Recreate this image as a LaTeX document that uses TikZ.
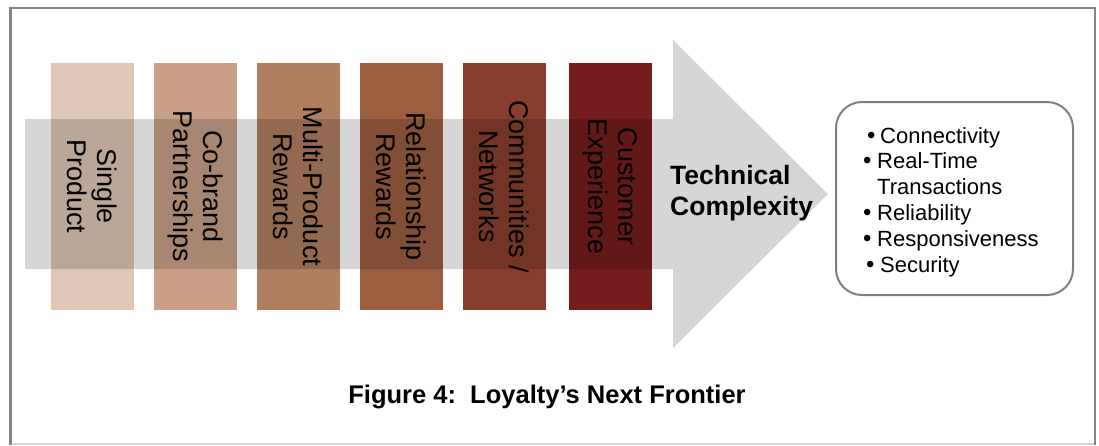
\documentclass[tikz,border=0pt]{standalone}
\usepackage{fontspec}
\setmainfont{Liberation Sans}
\begin{document}
\definecolor{frameline}{HTML}{7E868D}
\definecolor{framelight}{HTML}{D3D3D3}
\definecolor{boxline}{HTML}{7A8086}
\definecolor{tone1}{HTML}{E0C6B4}
\definecolor{tone2}{HTML}{C9A087}
\definecolor{tone3}{HTML}{B07F5F}
\definecolor{tone4}{HTML}{9C5E41}
\definecolor{tone5}{HTML}{883E2D}
\definecolor{tone6}{HTML}{741D1C}
\begin{tikzpicture}[x=1pt,y=-1pt,
  stagebar/.style={inner sep=0pt, minimum width=83pt, minimum height=247pt, draw=none},
  stagelabel/.style={rotate=-90, align=center, inner sep=0pt,
    font=\fontsize{27}{30}\selectfont},
  listitem/.style={anchor=base west, inner sep=0pt, font=\fontsize{22}{26}\selectfont},
  bulletmark/.style={anchor=base west, inner sep=0pt, font=\fontsize{24}{26}\selectfont}]
\useasboundingbox (0,0) rectangle (1099,445);

% outer frame
\draw[framelight, line width=1.5pt] (10.5,444) -- (1095,444);
\draw[frameline, line width=2.5pt] (10.5,445) -- (10.5,8) -- (1095,8) -- (1095,445);

% stage bars
\node[stagebar, fill=tone1] (b1) at (92.5,186.5) {};
\node[stagebar, fill=tone2] (b2) at (195.5,186.5) {};
\node[stagebar, fill=tone3] (b3) at (298.5,186.5) {};
\node[stagebar, fill=tone4] (b4) at (401.5,186.5) {};
\node[stagebar, fill=tone5] (b5) at (504.5,186.5) {};
\node[stagebar, fill=tone6] (b6) at (610.5,186.5) {};

% translucent grey arrow laid across the bars
\fill[black, fill opacity=0.16] (25,119) -- (673,119) -- (673,40) -- (828,194)
  -- (673,348) -- (673,269) -- (25,269) -- cycle;

% stage labels
\node[stagelabel] (l1) at (b1.center) {Single\\Product};
\node[stagelabel] (l2) at (b2.center) {Co-brand\\Partnerships};
\node[stagelabel] (l3) at (b3.center) {Multi-Product\\Rewards};
\node[stagelabel] (l4) at (b4.center) {Relationship\\Rewards};
\node[stagelabel] (l5) at (b5.center) {Communities /\\Networks};
\node[stagelabel] (l6) at (b6.center) {Customer\\Experience};

% arrow caption (base anchor sits on the last line)
\node[anchor=base west, align=left, inner sep=0pt,
  font=\fontsize{26.5}{31}\selectfont\bfseries] (tc) at (670,215)
  {Technical\\Complexity};

% requirements box
\node[draw=boxline, line width=2pt, rounded corners=26pt,
  minimum width=237pt, minimum height=193pt, inner sep=0pt] (req) at (954.5,198.5) {};
\node[bulletmark] (d1) at (867,143) {\textbullet};
\node[listitem] (t1) at (880,143) {Connectivity};
\node[bulletmark] (d2) at (863,168.8) {\textbullet};
\node[listitem] (t2) at (877,168.8) {Real-Time};
\node[listitem] (t3) at (877,194.6) {Transactions};
\node[bulletmark] (d4) at (863,220.4) {\textbullet};
\node[listitem] (t4) at (877,220.4) {Reliability};
\node[bulletmark] (d5) at (863,246.2) {\textbullet};
\node[listitem] (t5) at (877,246.2) {Responsiveness};
\node[bulletmark] (d6) at (866,272) {\textbullet};
\node[listitem] (t6) at (880,272) {Security};

% figure title
\node[anchor=base, inner sep=0pt, font=\fontsize{25.5}{30}\selectfont\bfseries]
  (title) at (547,403) {Figure 4:\ \ Loyalty’s Next Frontier};
\end{tikzpicture}
\end{document}
